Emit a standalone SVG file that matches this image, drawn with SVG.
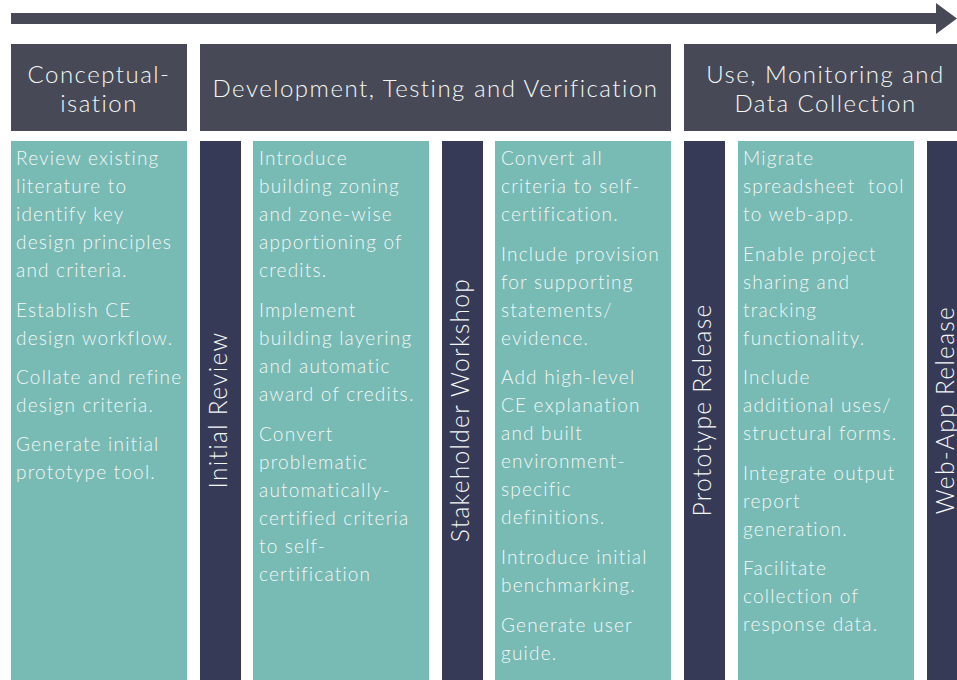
<svg xmlns="http://www.w3.org/2000/svg" width="957" height="680" viewBox="0 0 957 680">
<style>
.hdr{fill:#474a56}
.bar{fill:#373a56}
.col{fill:#78bab4}
text{font-family:Lato,"Open Sans","Liberation Sans",sans-serif;font-weight:300;fill:#f4f8f7}
.h{font-size:24px;letter-spacing:1.5px;text-anchor:middle}
.t{font-size:19px;letter-spacing:1.2px}
.v{font-size:24.5px;letter-spacing:1.3px;text-anchor:middle}
</style>
<g id="timeline">
<rect x="11" y="13" width="928" height="11" class="hdr"/>
<polygon points="936,3 957,18.5 936,34" class="hdr"/>
</g>
<g id="phase-conceptualisation">
<rect x="11" y="44" width="176" height="87" class="hdr"/>
<text class="h"><tspan x="99" y="83">Conceptual-</tspan><tspan x="99" y="112">isation</tspan></text>
</g>
<g id="phase-development">
<rect x="200" y="44" width="471" height="87" class="hdr"/>
<text class="h" x="435.5" y="97">Development, Testing and Verification</text>
</g>
<g id="phase-use">
<rect x="684" y="44" width="273" height="87" class="hdr"/>
<text class="h"><tspan x="825.5" y="83">Use, Monitoring and</tspan><tspan x="825.5" y="112">Data Collection</tspan></text>
</g>
<g id="col-1">
<rect x="11" y="141" width="176" height="539" class="col"/>
<text class="t">
<tspan x="16" y="165">Review existing</tspan>
<tspan x="16" y="193">literature to</tspan>
<tspan x="16" y="221">identify key</tspan>
<tspan x="16" y="249">design principles</tspan>
<tspan x="16" y="277">and criteria.</tspan>
<tspan x="16" y="317">Establish CE</tspan>
<tspan x="16" y="345">design workflow.</tspan>
<tspan x="16" y="384">Collate and refine</tspan>
<tspan x="16" y="412">design criteria.</tspan>
<tspan x="16" y="451">Generate initial</tspan>
<tspan x="16" y="479">prototype tool.</tspan>
</text>
</g>
<g id="milestone-initial-review">
<rect x="200" y="141" width="41" height="539" class="bar"/>
<text class="v" transform="translate(227,410) rotate(-90)">Initial Review</text>
</g>
<g id="col-2">
<rect x="253" y="141" width="176" height="539" class="col"/>
<text class="t">
<tspan x="259" y="165">Introduce</tspan>
<tspan x="259" y="193">building zoning</tspan>
<tspan x="259" y="221">and zone-wise</tspan>
<tspan x="259" y="249">apportioning of</tspan>
<tspan x="259" y="277">credits.</tspan>
<tspan x="259" y="317">Implement</tspan>
<tspan x="259" y="345">building layering</tspan>
<tspan x="259" y="373">and automatic</tspan>
<tspan x="259" y="401">award of credits.</tspan>
<tspan x="259" y="441">Convert</tspan>
<tspan x="259" y="469">problematic</tspan>
<tspan x="259" y="497">automatically-</tspan>
<tspan x="259" y="525">certified criteria</tspan>
<tspan x="259" y="553">to self-</tspan>
<tspan x="259" y="581">certification</tspan>
</text>
</g>
<g id="milestone-stakeholder-workshop">
<rect x="442" y="141" width="41" height="539" class="bar"/>
<text class="v" transform="translate(469,410) rotate(-90)">Stakeholder Workshop</text>
</g>
<g id="col-3">
<rect x="495" y="141" width="176" height="539" class="col"/>
<text class="t">
<tspan x="501" y="165">Convert all</tspan>
<tspan x="501" y="193">criteria to self-</tspan>
<tspan x="501" y="221">certification.</tspan>
<tspan x="501" y="261">Include provision</tspan>
<tspan x="501" y="289">for supporting</tspan>
<tspan x="501" y="317">statements/</tspan>
<tspan x="501" y="345">evidence.</tspan>
<tspan x="501" y="384">Add high-level</tspan>
<tspan x="501" y="412">CE explanation</tspan>
<tspan x="501" y="440">and built</tspan>
<tspan x="501" y="468">environment-</tspan>
<tspan x="501" y="496">specific</tspan>
<tspan x="501" y="524">definitions.</tspan>
<tspan x="501" y="564">Introduce initial</tspan>
<tspan x="501" y="592">benchmarking.</tspan>
<tspan x="501" y="632">Generate user</tspan>
<tspan x="501" y="660">guide.</tspan>
</text>
</g>
<g id="milestone-prototype-release">
<rect x="684" y="141" width="41" height="539" class="bar"/>
<text class="v" transform="translate(711,410) rotate(-90)">Prototype Release</text>
</g>
<g id="col-4">
<rect x="738" y="141" width="176" height="539" class="col"/>
<text class="t" xml:space="preserve">
<tspan x="743" y="165">Migrate</tspan>
<tspan x="743" y="193">spreadsheet  tool</tspan>
<tspan x="743" y="221">to web-app.</tspan>
<tspan x="743" y="261">Enable project</tspan>
<tspan x="743" y="289">sharing and</tspan>
<tspan x="743" y="317">tracking</tspan>
<tspan x="743" y="345">functionality.</tspan>
<tspan x="743" y="384">Include</tspan>
<tspan x="743" y="412">additional uses/</tspan>
<tspan x="743" y="440">structural forms.</tspan>
<tspan x="743" y="480">Integrate output</tspan>
<tspan x="743" y="508">report</tspan>
<tspan x="743" y="536">generation.</tspan>
<tspan x="743" y="575">Facilitate</tspan>
<tspan x="743" y="603">collection of</tspan>
<tspan x="743" y="631">response data.</tspan>
</text>
</g>
<g id="milestone-web-app-release">
<rect x="927" y="141" width="30" height="539" class="bar"/>
<text class="v" transform="translate(954,410) rotate(-90)">Web-App Release</text>
</g>
<g id="connectors"/>
</svg>
